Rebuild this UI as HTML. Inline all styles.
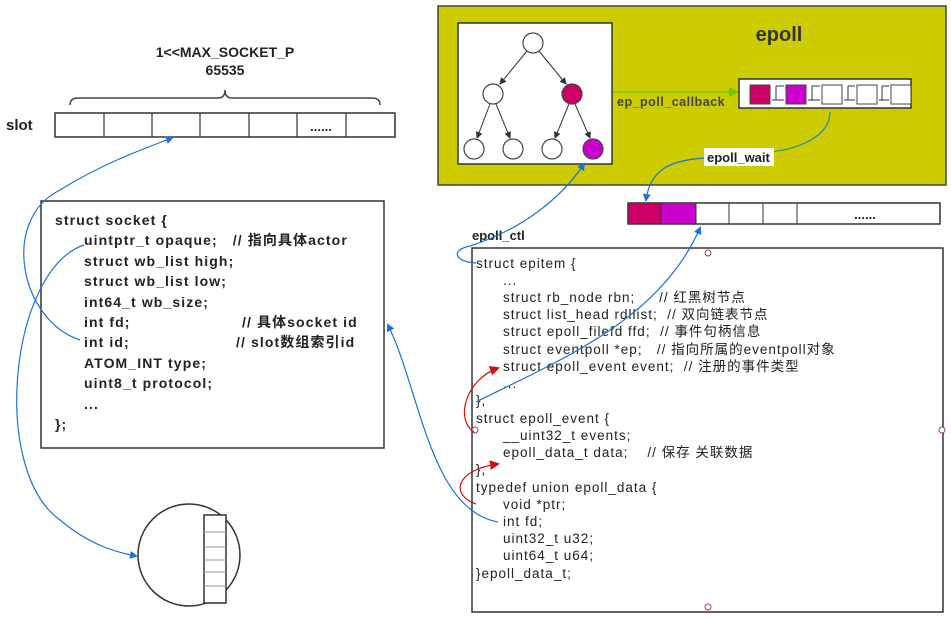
<!DOCTYPE html>
<html><head><meta charset="utf-8"><style>
body{margin:0;background:#fff;}
svg{display:block;}
text{font-family:"Liberation Sans","Noto Sans CJK SC",sans-serif;fill:#222;white-space:pre;}
.b{font-weight:bold;font-size:13px;}
.c{font-weight:bold;font-size:14px;letter-spacing:1.1px;}
.r{font-size:13.5px;letter-spacing:1px;}
</style></head><body>
<svg width="951" height="621" viewBox="0 0 951 621" xmlns="http://www.w3.org/2000/svg" xml:space="preserve">
<defs>
<marker id="ab" markerWidth="8" markerHeight="8" refX="6" refY="4" orient="auto" markerUnits="userSpaceOnUse"><path d="M0,0 L8,4 L0,8 z" fill="#1a73d9"/></marker>
<marker id="ar" markerWidth="10" markerHeight="10" refX="8" refY="5" orient="auto" markerUnits="userSpaceOnUse"><path d="M0,0 L10,5 L0,10 z" fill="#d01010"/></marker>
<marker id="ag" markerWidth="10" markerHeight="10" refX="8" refY="5" orient="auto" markerUnits="userSpaceOnUse"><path d="M0,0 L10,5 L0,10 z" fill="#66cc00"/></marker>
<marker id="ak" markerWidth="7" markerHeight="7" refX="6" refY="3.5" orient="auto" markerUnits="userSpaceOnUse"><path d="M0,0 L7,3.5 L0,7 z" fill="#333"/></marker>
</defs>
<text x="225" y="57" text-anchor="middle" class="b" style="font-size:14px">1&lt;&lt;MAX_SOCKET_P</text>
<text x="225" y="75" text-anchor="middle" class="b" style="font-size:14px">65535</text>
<path d="M70,105 Q70,98 78,98 L218,98 Q225,98 225,90 Q225,98 232,98 L372,98 Q380,98 380,105" fill="none" stroke="#444" stroke-width="1.5"/>
<text x="6" y="130" class="b" style="font-size:15px">slot</text>
<rect x="55" y="113" width="340" height="24" fill="#fff" stroke="#333" stroke-width="1.5"/>
<g stroke="#333" stroke-width="1.2"><line x1="104" y1="113" x2="104" y2="137"/><line x1="152" y1="113" x2="152" y2="137"/><line x1="200" y1="113" x2="200" y2="137"/><line x1="249" y1="113" x2="249" y2="137"/><line x1="297" y1="113" x2="297" y2="137"/><line x1="346" y1="113" x2="346" y2="137"/></g>
<text x="321" y="131" text-anchor="middle" class="b">......</text>
<rect x="41" y="201" width="343" height="247" fill="#fff" stroke="#333" stroke-width="1.5"/>
<g class="c">
<text x="55" y="225">struct socket {</text>
<text x="84" y="245">uintptr_t opaque;   // 指向具体actor</text>
<text x="84" y="266">struct wb_list high;</text>
<text x="84" y="286">struct wb_list low;</text>
<text x="84" y="307">int64_t wb_size;</text>
<text x="84" y="327">int fd;</text><text x="242" y="327">// 具体socket id</text>
<text x="84" y="347">int id;</text><text x="236" y="347">// slot数组索引id</text>
<text x="84" y="368">ATOM_INT type;</text>
<text x="84" y="388">uint8_t protocol;</text>
<text x="84" y="409">...</text>
<text x="55" y="429">};</text>
</g>
<circle cx="189" cy="555" r="51" fill="#fff" stroke="#333" stroke-width="1.5"/>
<rect x="204" y="515" width="22" height="88" fill="#fff" stroke="#333" stroke-width="1.5"/>
<g stroke="#999"><line x1="204" y1="532" x2="226" y2="532"/><line x1="204" y1="547" x2="226" y2="547"/><line x1="204" y1="560" x2="226" y2="560"/><line x1="204" y1="572" x2="226" y2="572"/><line x1="204" y1="586" x2="226" y2="586"/></g>
<path d="M80,340 C20,320 0,220 60,190 C100,165 140,150 172,138" fill="none" stroke="#1a73d9" stroke-width="1.2" marker-end="url(#ab)"/>
<path d="M84,245 C10,270 -10,470 60,520 C90,545 115,552 136,556" fill="none" stroke="#1a73d9" stroke-width="1.2" marker-end="url(#ab)"/>
<rect x="438" y="6" width="508" height="179" fill="#cccc00" stroke="#444" stroke-width="1.5"/>
<text x="779" y="41" text-anchor="middle" style="font-size:20px;font-weight:bold;fill:#333">epoll</text>
<rect x="458" y="23" width="154" height="141" fill="#fff" stroke="#333" stroke-width="1.5"/>
<g stroke="#333" stroke-width="1" marker-end="url(#ak)">
<line x1="527" y1="51" x2="500" y2="84"/><line x1="539" y1="51" x2="566" y2="84"/>
<line x1="490" y1="104" x2="477" y2="138"/><line x1="496" y1="104" x2="510" y2="138"/>
<line x1="569" y1="104" x2="555" y2="138"/><line x1="575" y1="104" x2="590" y2="138"/>
</g>
<g stroke="#444" stroke-width="1.2">
<circle cx="533" cy="43" r="10" fill="#fff"/><circle cx="493" cy="94" r="10" fill="#fff"/><circle cx="572" cy="94" r="10" fill="#cc0066"/>
<circle cx="474" cy="149" r="10" fill="#fff"/><circle cx="513" cy="149" r="10" fill="#fff"/><circle cx="552" cy="149" r="10" fill="#fff"/><circle cx="593" cy="149" r="10" fill="#cc00cc"/>
</g>
<line x1="613" y1="92" x2="737" y2="92" stroke="#66cc00" stroke-width="1.2" marker-end="url(#ag)"/>
<text x="617" y="106" style="font-size:12.5px;font-weight:bold;fill:#444;letter-spacing:0.5px">ep_poll_callback</text>
<rect x="739" y="79" width="172" height="29" fill="#fff" stroke="#333" stroke-width="1.5"/>
<g stroke="#444" stroke-width="1">
<rect x="750" y="85" width="20" height="19" fill="#cc0066"/><rect x="786" y="85" width="20" height="19" fill="#cc00cc"/>
<rect x="822" y="85" width="20" height="19" fill="#fff"/><rect x="857" y="85" width="20" height="19" fill="#fff"/><rect x="891" y="85" width="20" height="19" fill="#fff"/>
</g>
<g stroke="#333" stroke-width="1">
<path d="M772,100 L784,100 M776,86 L784,86 M776,86 L776,100"/>
<path d="M808,100 L820,100 M812,86 L820,86 M812,86 L812,100"/>
<path d="M844,100 L855,100 M848,86 L855,86 M848,86 L848,100"/>
<path d="M879,100 L889,100 M882,86 L889,86 M882,86 L882,100"/>
</g>
<path d="M830,112 C830,140 790,150 770,152" fill="none" stroke="#2a8ab0" stroke-width="1.2"/>
<path d="M705,158 C670,160 650,170 646,200" fill="none" stroke="#1a73d9" stroke-width="1.2" marker-end="url(#ab)"/>
<rect x="704" y="148" width="70" height="18" fill="#fff"/>
<text x="707" y="162" class="b">epoll_wait</text>
<rect x="628" y="203" width="312" height="21" fill="#fff" stroke="#333" stroke-width="1.5"/>
<rect x="628" y="203" width="33" height="21" fill="#cc0066" stroke="#333"/>
<rect x="661" y="203" width="35" height="21" fill="#cc00cc" stroke="#333"/>
<g stroke="#333"><line x1="729" y1="203" x2="729" y2="224"/><line x1="763" y1="203" x2="763" y2="224"/><line x1="797" y1="203" x2="797" y2="224"/></g>
<text x="865" y="219" text-anchor="middle" class="b">......</text>
<text x="472" y="240" class="b">epoll_ctl</text>
<rect x="472" y="248" width="471" height="364" fill="#fff" stroke="#333" stroke-width="1.5"/>
<g fill="#fff" stroke="#a04040"><circle cx="708" cy="253" r="3"/><circle cx="475" cy="430" r="3"/><circle cx="942" cy="430" r="3"/><circle cx="708" cy="607" r="3"/></g>
<g class="r">
<text x="476" y="268">struct epitem {</text>
<text x="503" y="285">...</text>
<text x="503" y="302">struct rb_node rbn;     // 红黑树节点</text>
<text x="503" y="319">struct list_head rdllist;  // 双向链表节点</text>
<text x="503" y="336">struct epoll_filefd ffd;  // 事件句柄信息</text>
<text x="503" y="354">struct eventpoll *ep;   // 指向所属的eventpoll对象</text>
<text x="503" y="371">struct epoll_event event;  // 注册的事件类型</text>
<text x="503" y="388">...</text>
<text x="476" y="405">};</text>
<text x="476" y="423">struct epoll_event {</text>
<text x="503" y="440">__uint32_t events;</text>
<text x="503" y="457">epoll_data_t data;    // 保存 关联数据</text>
<text x="476" y="474">};</text>
<text x="476" y="492">typedef union epoll_data {</text>
<text x="503" y="509">void *ptr;</text>
<text x="503" y="526">int fd;</text>
<text x="503" y="543">uint32_t u32;</text>
<text x="503" y="560">uint64_t u64;</text>
<text x="476" y="578">}epoll_data_t;</text>
</g>
<path d="M476,263 C455,262 450,250 470,246 C520,230 560,200 584,164" fill="none" stroke="#1a73d9" stroke-width="1.2" marker-end="url(#ab)"/>
<path d="M476,402 C560,360 660,320 700,228" fill="none" stroke="#1a73d9" stroke-width="1.2" marker-end="url(#ab)"/>
<path d="M498,522 C430,510 420,390 388,325" fill="none" stroke="#1a73d9" stroke-width="1.2" marker-end="url(#ab)"/>
<path d="M474,432 C455,420 465,380 498,368" fill="none" stroke="#d01010" stroke-width="1.2" marker-end="url(#ar)"/>
<path d="M476,504 C450,495 455,470 498,464" fill="none" stroke="#d01010" stroke-width="1.2" marker-end="url(#ar)"/>
</svg>
</body></html>
